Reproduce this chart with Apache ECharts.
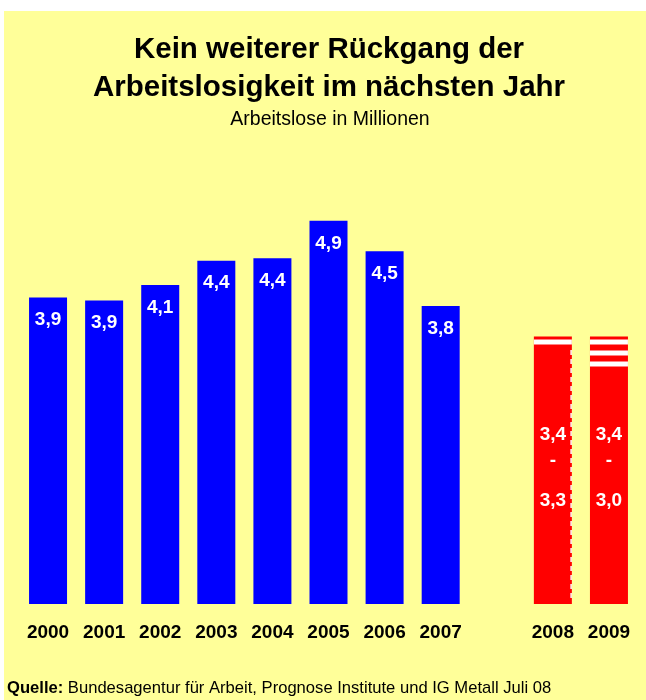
<!DOCTYPE html>
<html>
<head>
<meta charset="utf-8">
<script src="https://cdn.jsdelivr.net/npm/echarts@6/dist/echarts.min.js"></script>
<style>
  html, body { margin: 0; padding: 0; background: #ffffff; }
  #chart { position: absolute; left: 4px; top: 11px; width: 642px; height: 689px; }
</style>
</head>
<body>
<div id="chart"></div>
<script>
// ---- data ----
const categories = ['2000', '2001', '2002', '2003', '2004', '2005', '2006', '2007', '', '2008', '2009'];
const actualValues = [3.92, 3.88, 4.08, 4.39, 4.42, 4.90, 4.51, 3.81, null, null, null];
const forecastHigh = [null, null, null, null, null, null, null, null, null, 3.42, 3.42];
const forecastLow  = [null, null, null, null, null, null, null, null, null, 3.3, 3.0];
const titleLines = ['Kein weiterer Rückgang der', 'Arbeitslosigkeit im nächsten Jahr'];
const subtitleText = 'Arbeitslose in Millionen';
const sourceLabel = 'Quelle:';
const sourceText = 'Bundesagentur für Arbeit, Prognose Institute und IG Metall Juli 08';

const FONT = '"Liberation Sans", Arial, Helvetica, sans-serif';
const fmt = v => v.toFixed(1).replace('.', ',');

const rangeData = [];
forecastHigh.forEach((h, i) => {
  if (h != null) rangeData.push([i, forecastLow[i], h]);
});

const labelText = { fontFamily: FONT, fontSize: 19, fontWeight: 'bold', color: '#fff' };

const chart = echarts.init(document.getElementById('chart'));
chart.setOption({
  backgroundColor: '#FFFF99',
  animation: false,
  title: [
    {
      text: titleLines.join('\n'),
      left: 325, top: 20, textAlign: 'center', padding: 0,
      textStyle: { fontFamily: FONT, fontSize: 29.5, fontWeight: 'bold', color: '#000', lineHeight: 38 }
    },
    {
      text: subtitleText,
      left: 326, top: 99, textAlign: 'center', padding: 0,
      textStyle: { fontFamily: FONT, fontSize: 19.5, fontWeight: 'normal', color: '#000', lineHeight: 19.5 }
    }
  ],
  grid: { left: 16, right: 9, top: 202, bottom: 96, containLabel: false },
  xAxis: {
    type: 'category',
    data: categories,
    axisLine: { show: false },
    axisTick: { show: false },
    axisLabel: {
      interval: 0, margin: 19,
      fontFamily: FONT, fontSize: 19, fontWeight: 'bold', color: '#000'
    }
  },
  yAxis: { type: 'value', min: 0, max: 5, show: false, splitLine: { show: false } },
  series: [
    {
      name: 'Arbeitslose',
      type: 'bar',
      data: actualValues,
      barWidth: 38,
      barGap: '-100%',
      itemStyle: { color: '#0000FF' },
      label: Object.assign({
        show: true, position: 'insideTop', distance: 13,
        formatter: p => p.value == null ? '' : fmt(p.value)
      }, labelText)
    },
    {
      name: 'Prognose',
      type: 'bar',
      data: forecastHigh,
      barWidth: 38,
      barGap: '-100%',
      itemStyle: { color: '#FF0000' },
      label: Object.assign({
        show: true, position: 'inside', offset: [0, 4],
        formatter: p => p.value == null ? '' :
          '{a|' + fmt(forecastHigh[p.dataIndex]) + '}\n{h|-}\n{c|' + fmt(forecastLow[p.dataIndex]) + '}',
        rich: {
          a: Object.assign({ lineHeight: 32 }, labelText),
          h: Object.assign({ lineHeight: 20 }, labelText),
          c: Object.assign({ lineHeight: 60 }, labelText)
        }
      }, labelText)
    },
    {
      name: 'Prognosespanne',
      type: 'custom',
      z: 5,
      data: rangeData,
      renderItem: (params, api) => {
        const idx = api.value(0);
        const low = api.coord([idx, api.value(1)]);
        const high = api.coord([idx, api.value(2)]);
        const base = api.coord([idx, 0]);
        const w = 38;
        const x0 = high[0] - w / 2;
        const children = [];
        for (let y = high[1] + 3; y + 5 <= low[1] - 1; y += 11) {
          children.push({ type: 'rect', shape: { x: x0, y: y, width: w, height: 5 }, style: { fill: '#fff' } });
        }
        if (params.dataIndex === 0) {
          children.push({
            type: 'line',
            shape: { x1: x0 + w - 0.75, y1: low[1] + 4, x2: x0 + w - 0.75, y2: base[1] - 2 },
            style: { stroke: '#fff', lineWidth: 1.5, lineDash: [5, 4] }
          });
        }
        return { type: 'group', children };
      }
    }
  ],
  graphic: [
    {
      type: 'text',
      x: 3, y: 677,
      style: {
        text: '{b|' + sourceLabel + '} ' + sourceText,
        fill: '#000',
        font: '16.6px ' + FONT,
        fontFamily: FONT, fontSize: 16.6,
        verticalAlign: 'middle', textVerticalAlign: 'middle',
        rich: { b: { fontFamily: FONT, fontSize: 16.6, fontWeight: 'bold', fill: '#000' } }
      }
    }
  ]
});
</script>
</body>
</html>
